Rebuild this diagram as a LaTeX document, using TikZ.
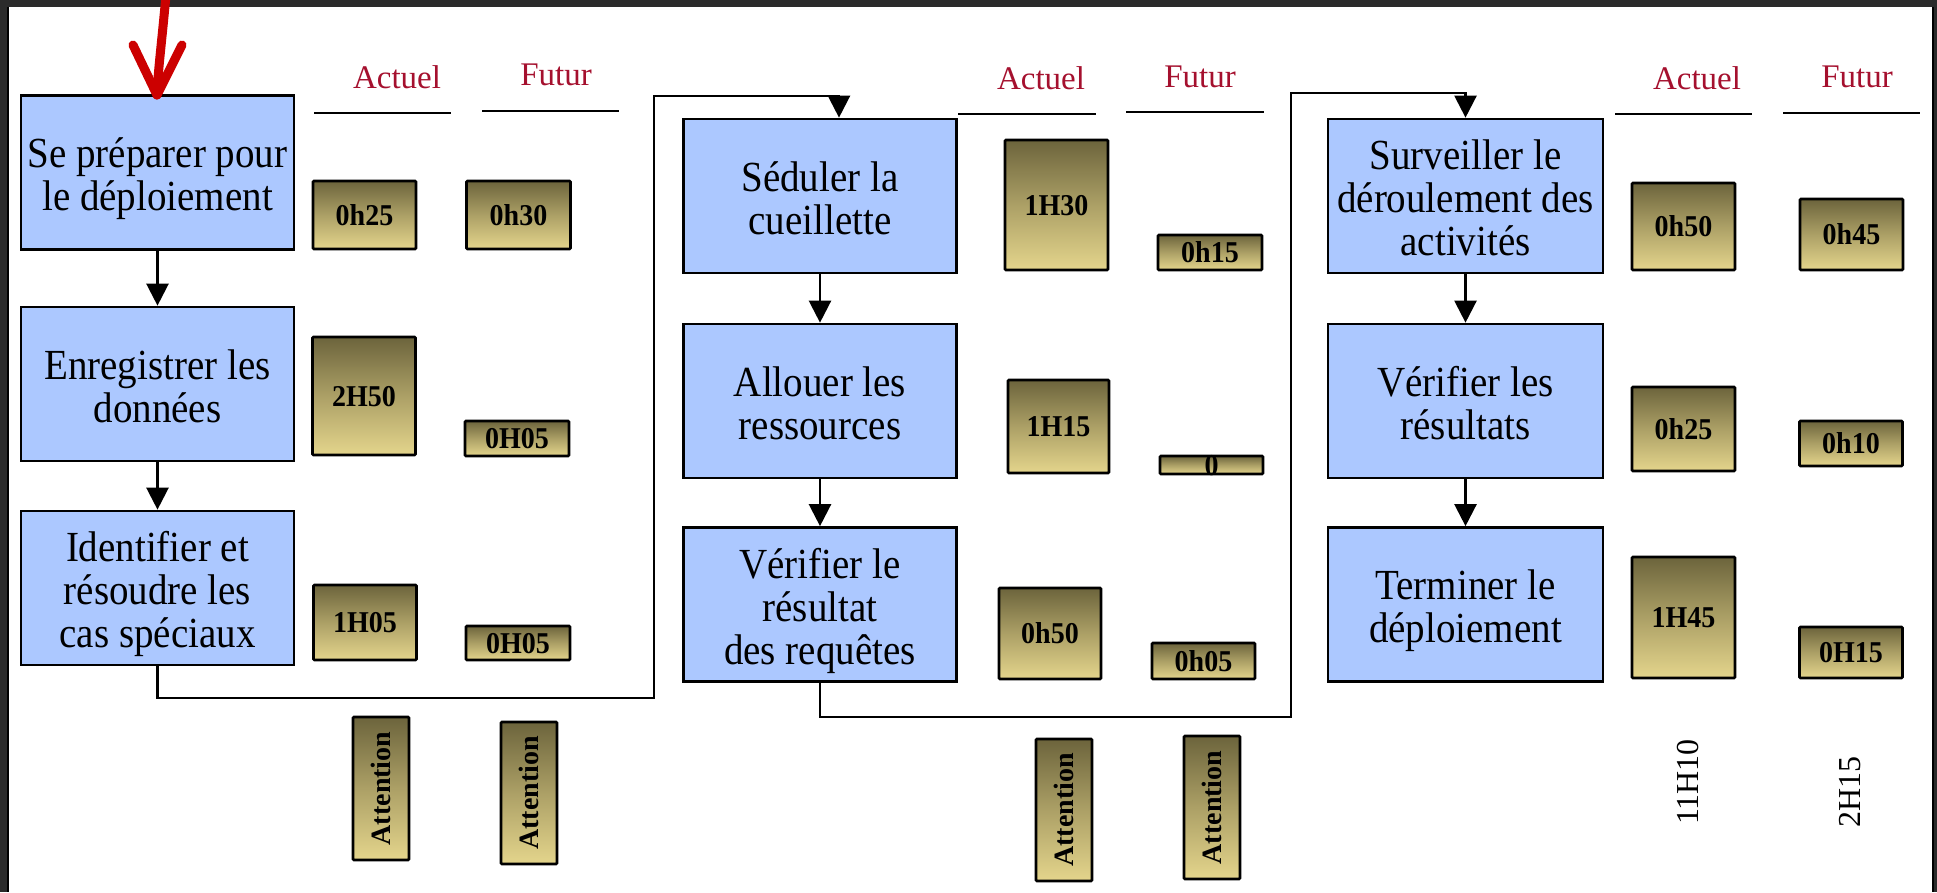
\documentclass[tikz,border=0pt]{standalone}
\usepackage{fontspec}
\setmainfont{Liberation Serif}
\usetikzlibrary{arrows.meta}
\definecolor{frameg}{RGB}{43,43,43}
\definecolor{boxblue}{RGB}{172,200,255}
\definecolor{bartop}{RGB}{108,100,60}
\definecolor{barmid}{RGB}{172,160,102}
\definecolor{barbot}{RGB}{228,213,140}
\definecolor{hdrred}{RGB}{165,16,46}
\definecolor{annred}{RGB}{204,0,0}
\newcommand{\vstretch}[2]{\scalebox{1}[#1]{\begin{tabular}{@{}c@{}}#2\end{tabular}}}
\newcommand{\boxtxt}[1]{\raisebox{-8pt}[\height][\depth]{\vstretch{1.1}{#1}}}
\begin{document}
\begin{tikzpicture}[x=1pt,y=-1pt,
  stepbox/.style={draw=black, line width=2.7pt, fill=boxblue, minimum width=273pt, minimum height=154pt, inner sep=0pt, align=center, font=\fontsize{39}{39}\selectfont},
  bar/.style={draw=black, line width=2.6pt, top color=bartop, bottom color=barbot, middle color=barmid, inner sep=0pt, rounded corners=1pt},
  bartext/.style={font=\fontsize{28}{30}\selectfont\bfseries, inner sep=0pt, yshift=-4pt},
  atttext/.style={font=\fontsize{28}{30}\selectfont\bfseries, inner sep=0pt, rotate=90},
  hdr/.style={text=hdrred, font=\fontsize{33}{36}\selectfont, inner sep=0pt},
  total/.style={font=\fontsize{32}{36}\selectfont, rotate=90, inner sep=0pt},
  hline/.style={line width=2.6pt},
  arr/.style={line width=2.4pt, -{Triangle[length=22pt,width=22pt]}},
]
\useasboundingbox (0,0) rectangle (1937,892);
% frame
\fill[frameg] (0,0) rectangle (1937,892);
\fill[white] (9,7) rectangle (1932,892);
\draw[line width=2pt] (8,7) -- (8,892);
\draw[line width=2pt] (1933,7) -- (1933,892);

% step boxes
\node[stepbox] (b1) at (157.5,172.5) {\boxtxt{Se préparer pour\\le déploiement}};
\node[stepbox] (b2) at (157.5,384) {\boxtxt{Enregistrer les\\données}};
\node[stepbox] (b3) at (157.5,588) {\boxtxt{Identifier et\\résoudre les\\cas spéciaux}};
\node[stepbox] (b4) at (820,196) {\boxtxt{Séduler la\\cueillette}};
\node[stepbox] (b5) at (820,401) {\boxtxt{Allouer les\\ressources}};
\node[stepbox] (b6) at (820,604.5) {\boxtxt{Vérifier le\\résultat\\des requêtes}};
\node[stepbox, minimum width=275pt] (b7) at (1465.5,196) {\boxtxt{Surveiller le\\déroulement des\\activités}};
\node[stepbox, minimum width=275pt] (b8) at (1465.5,401) {\boxtxt{Vérifier les\\résultats}};
\node[stepbox, minimum width=275pt] (b9) at (1465.5,604.5) {\boxtxt{Terminer le\\déploiement}};

% vertical arrows
\draw[arr] (b1.south) -- (b2.north);
\draw[arr] (b2.south) -- (b3.north);
\draw[arr] (b4.south) -- (b5.north);
\draw[arr] (b5.south) -- (b6.north);
\draw[arr] (b7.south) -- (b8.north);
\draw[arr] (b8.south) -- (b9.north);

% column connectors
\coordinate (k1) at (654,698);
\coordinate (k2) at (654,96);
\coordinate (k2e) at (839,96);
\draw[arr] (b3.south) |- (k1) -- (k2) -- (k2e) -- (k2e |- b4.north);
\coordinate (k3) at (1291,717);
\coordinate (k4) at (1291,93);
\draw[arr] (b6.south) |- (k3) -- (k4) -| (b7.north);

% headers
\node[hdr] (h1a) at (397,77) {Actuel};
\node[hdr] (h1f) at (556,75) {Futur};
\node[hdr] (h2a) at (1041,78) {Actuel};
\node[hdr] (h2f) at (1200,77) {Futur};
\node[hdr] (h3a) at (1697,78) {Actuel};
\node[hdr] (h3f) at (1857,77) {Futur};
\draw[hline] (314,113) -- (451,113);
\draw[hline] (482,111) -- (619,111);
\draw[hline] (958,114) -- (1096,114);
\draw[hline] (1126,112) -- (1264,112);
\draw[hline] (1615,114) -- (1752,114);
\draw[hline] (1783,113) -- (1920,113);

% bars column 1
\node[bar, minimum width=103pt, minimum height=68pt] (a1) at (364.5,215) {};
\node[bartext] (a1t) at (a1) {\vstretch{1.08}{0h25}};
\node[bar, minimum width=103pt, minimum height=118pt] (a2) at (364,396) {};
\node[bartext] (a2t) at (a2) {\vstretch{1.08}{2H50}};
\node[bar, minimum width=103pt, minimum height=75pt] (a3) at (365,622.5) {};
\node[bartext] (a3t) at (a3) {\vstretch{1.08}{1H05}};
\node[bar, minimum width=104pt, minimum height=68pt] (f1) at (518.5,215) {};
\node[bartext] (f1t) at (f1) {\vstretch{1.08}{0h30}};
\node[bar, minimum width=104pt, minimum height=35pt] (f2) at (517,438.5) {};
\node[bartext] (f2t) at (f2) {\vstretch{1.08}{0H05}};
\node[bar, minimum width=104pt, minimum height=34pt] (f3) at (518,643) {};
\node[bartext] (f3t) at (f3) {\vstretch{1.08}{0H05}};

% bars column 2
\node[bar, minimum width=103pt, minimum height=130pt] (a4) at (1056.5,205) {};
\node[bartext] (a4t) at (a4) {\vstretch{1.08}{1H30}};
\node[bar, minimum width=101pt, minimum height=93pt] (a5) at (1058.5,426.5) {};
\node[bartext] (a5t) at (a5) {\vstretch{1.08}{1H15}};
\node[bar, minimum width=102pt, minimum height=91pt] (a6) at (1050,633.5) {};
\node[bartext] (a6t) at (a6) {\vstretch{1.08}{0h50}};
\node[bar, minimum width=104pt, minimum height=35pt] (f4) at (1210,252.5) {};
\node[bartext] (f4t) at (f4) {\vstretch{1.08}{0h15}};
\node[bar, minimum width=103pt, minimum height=18pt] (f5) at (1211.5,465) {};
\node[bartext] (f5t) at (f5) {\vstretch{1.08}{0}};
\node[bar, minimum width=103pt, minimum height=36pt] (f6) at (1203.5,661) {};
\node[bartext] (f6t) at (f6) {\vstretch{1.08}{0h05}};

% bars column 3
\node[bar, minimum width=103pt, minimum height=87pt] (a7) at (1683.5,226.5) {};
\node[bartext] (a7t) at (a7) {\vstretch{1.08}{0h50}};
\node[bar, minimum width=103pt, minimum height=84pt] (a8) at (1683.5,429) {};
\node[bartext] (a8t) at (a8) {\vstretch{1.08}{0h25}};
\node[bar, minimum width=103pt, minimum height=121pt] (a9) at (1683.5,617.5) {};
\node[bartext] (a9t) at (a9) {\vstretch{1.08}{1H45}};
\node[bar, minimum width=103pt, minimum height=71pt] (f7) at (1851.5,234.5) {};
\node[bartext] (f7t) at (f7) {\vstretch{1.08}{0h45}};
\node[bar, minimum width=103pt, minimum height=45pt] (f8) at (1851,443.5) {};
\node[bartext] (f8t) at (f8) {\vstretch{1.08}{0h10}};
\node[bar, minimum width=103pt, minimum height=51pt] (f9) at (1851,652.5) {};
\node[bartext] (f9t) at (f9) {\vstretch{1.08}{0H15}};

% attention bars
\node[bar, minimum width=56pt, minimum height=143pt] (t1) at (381,788.5) {};
\node[atttext] (t1t) at (t1) {Attention};
\node[bar, minimum width=56pt, minimum height=142pt] (t2) at (529,793) {};
\node[atttext] (t2t) at (t2) {Attention};
\node[bar, minimum width=56pt, minimum height=142pt] (t3) at (1064,810) {};
\node[atttext] (t3t) at (t3) {Attention};
\node[bar, minimum width=56pt, minimum height=143pt] (t4) at (1212,807.5) {};
\node[atttext] (t4t) at (t4) {Attention};

% totals
\node[total] (s1) at (1688,782) {11H10};
\node[total] (s2) at (1850,792) {2H15};

% red annotation arrow
\draw[annred, line width=9pt, line cap=round, line join=round] (166,-5) .. controls (162,40) and (158,70) .. (157,95);
\draw[annred, line width=9pt, line cap=round, line join=round] (133,45) -- (157,95) -- (182,45);
\end{tikzpicture}
\end{document}
